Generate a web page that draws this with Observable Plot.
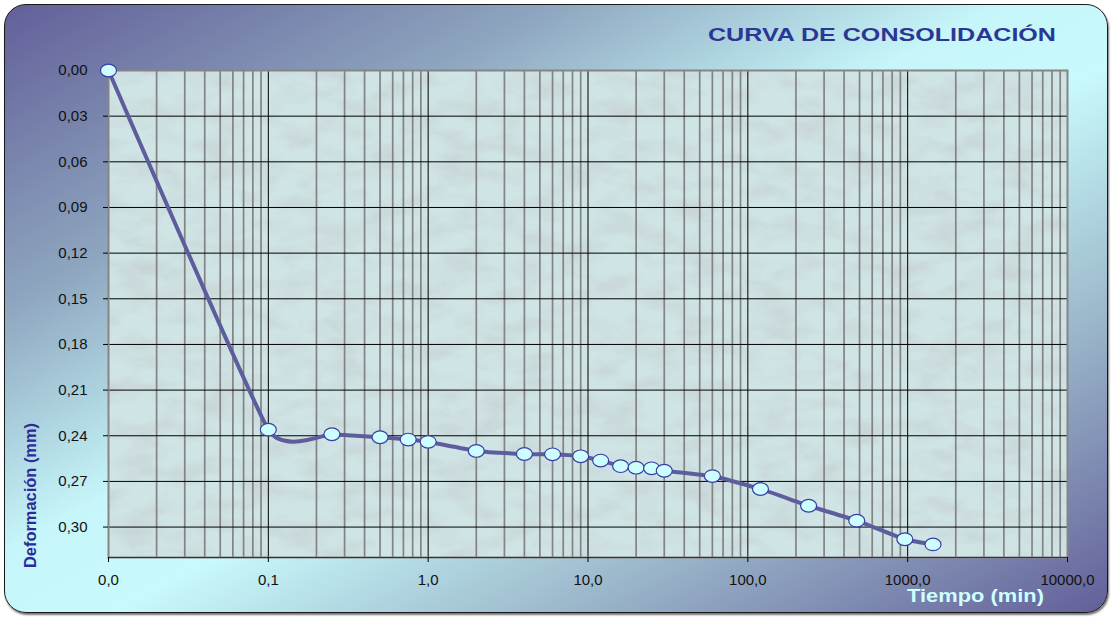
<!DOCTYPE html>
<html>
<head>
<meta charset="utf-8">
<script src="https://cdn.jsdelivr.net/npm/d3@7"></script>
<script src="https://cdn.jsdelivr.net/npm/@observablehq/plot@0.6"></script>
<style>
  body { margin: 0; background: #ffffff; }
  #wrap { position: relative; width: 1113px; height: 618px; overflow: hidden; font-family: "Liberation Sans", Arial, sans-serif; }
  #bg { position: absolute; left: 4px; top: 4px; width: 1102px; height: 607px; border: 1px solid #1a1a1a; border-radius: 22px;
        box-shadow: 1px 2px 2px rgba(0,0,0,0.55);
        background: linear-gradient(to bottom right, #625f99 0%, #8ea6bf 25%, #c6f6f9 45%, #c8f9fb 55%, #9cb8cb 75%, #625f99 100%); }
  #chart { position: absolute; left: 0; top: 0; }
</style>
</head>
<body>
<div id="wrap"><div id="bg"></div><div id="chart"></div></div>
<script>
// ---- data ----
const tiempo = [0.01, 0.1, 0.25, 0.5, 0.75, 1, 2, 4, 6, 9, 12, 16, 20, 25, 30, 60, 120, 240, 480, 960, 1440];
const deformacion = [0.000, 0.236, 0.239, 0.241, 0.2425, 0.244, 0.250, 0.252, 0.2522, 0.2535, 0.2563, 0.260, 0.261, 0.2614, 0.263, 0.2665, 0.275, 0.286, 0.2958, 0.308, 0.3114];
const xTicks = [0.01, 0.1, 1, 10, 100, 1000, 10000];
const xTickLabels = ["0,0", "0,1", "1,0", "10,0", "100,0", "1000,0", "10000,0"];
const yTicks = [0, 0.03, 0.06, 0.09, 0.12, 0.15, 0.18, 0.21, 0.24, 0.27, 0.30];
const yTickLabels = ["0,00", "0,03", "0,06", "0,09", "0,12", "0,15", "0,18", "0,21", "0,24", "0,27", "0,30"];
const minorMultipliers = [2, 3, 4, 5, 6, 7, 8, 9];
const title = "CURVA DE CONSOLIDACIÓN";
const xLabel = "Tiempo (min)";
const yLabel = "Deformación (mm)";

const data = tiempo.map((t, i) => ({t, d: deformacion[i]}));
const minor = [];
for (const dec of xTicks.slice(0, -1)) for (const m of minorMultipliers) minor.push(dec * m);

const ellipse = {
  draw(ctx) {
    const rx = 8, ry = 6.3, k = 0.5523;
    ctx.moveTo(rx, 0);
    ctx.bezierCurveTo(rx, ry * k, rx * k, ry, 0, ry);
    ctx.bezierCurveTo(-rx * k, ry, -rx, ry * k, -rx, 0);
    ctx.bezierCurveTo(-rx, -ry * k, -rx * k, -ry, 0, -ry);
    ctx.bezierCurveTo(rx * k, -ry, rx, -ry * k, rx, 0);
    ctx.closePath();
  }
};

const chart = Plot.plot({
  width: 1113, height: 618,
  marginLeft: 108, marginRight: 46, marginTop: 70, marginBottom: 61,
  style: {background: "transparent", fontFamily: "'Liberation Sans', Arial, sans-serif", fontSize: "15px", color: "#000", overflow: "visible"},
  x: {type: "log", domain: [0.01, 10000], axis: null},
  y: {domain: [0, 0.32], reverse: true, axis: null},
  marks: [
    Plot.frame({fill: "#cfe4e5", className: "plotbg"}),
    Plot.ruleX(minor, {stroke: "#838383", strokeWidth: 1.7}),
    Plot.ruleX(xTicks, {stroke: "#000", strokeWidth: 1}),
    Plot.ruleY(yTicks.slice(1), {stroke: "#000", strokeWidth: 1}),
    Plot.frame({stroke: "#858585", strokeWidth: 2}),
    Plot.ruleY([0.32], {stroke: "#333", strokeWidth: 1}),
    Plot.axisX({ticks: xTicks, tickFormat: d => xTickLabels[xTicks.indexOf(d)], tickSize: 5, tickPadding: 12, stroke: "#000", fill: "#111", fontSize: 15, letterSpacing: "2px", label: null}),
    Plot.axisY({ticks: yTicks, tickFormat: d => yTickLabels[yTicks.indexOf(d)], tickSize: 5, tickPadding: 16, stroke: "#000", fill: "#111", fontSize: 15, letterSpacing: "2px", label: null}),
    Plot.line(data, {x: "t", y: "d", stroke: "#5d5c9c", strokeWidth: 4, curve: d3.curveCardinal.tension(0.6)}),
    Plot.dot(data, {x: "t", y: "d", symbol: ellipse, fill: "#ccfeff", stroke: "#3c3ca2", strokeWidth: 1.2})
  ]
});
document.getElementById("chart").appendChild(chart);

const svg = d3.select(chart);
// subtle paper texture over the plot background
const defs = svg.insert("defs", ":first-child");
const f = defs.append("filter").attr("id", "tex").attr("x", 0).attr("y", 0).attr("width", 1).attr("height", 1);
f.append("feTurbulence").attr("type", "fractalNoise").attr("baseFrequency", "0.025 0.05").attr("numOctaves", 4).attr("seed", 7);
f.append("feColorMatrix").attr("type", "matrix")
  .attr("values", "0 0 0 0 0.55  0 0 0 0 0.60  0 0 0 0 0.62  1.3 0 0 0 -0.52");
const bgNode = chart.querySelector(".plotbg");
if (bgNode) {
  const r = bgNode.querySelector("rect") || bgNode;
  const tex = document.createElementNS("http://www.w3.org/2000/svg", "rect");
  ["x", "y", "width", "height"].forEach(a => tex.setAttribute(a, r.getAttribute(a)));
  tex.setAttribute("filter", "url(#tex)");
  tex.setAttribute("fill", "#000");
  bgNode.parentNode.insertBefore(tex, bgNode.nextSibling);
}

svg.append("text").attr("x", 708).attr("y", 41).attr("text-anchor", "start").attr("textLength", 348).attr("lengthAdjust", "spacingAndGlyphs")
  .attr("font-size", 18).attr("font-weight", "bold").attr("fill", "#2c3794").text(title);
svg.append("text").attr("x", 907).attr("y", 602).attr("text-anchor", "start").attr("textLength", 137).attr("lengthAdjust", "spacingAndGlyphs")
  .attr("font-size", 18).attr("font-weight", "bold").attr("fill", "#ccffff").text(xLabel);
svg.append("text").attr("transform", "translate(36,568) rotate(-90)").attr("text-anchor", "start").attr("textLength", 145).attr("lengthAdjust", "spacingAndGlyphs")
  .attr("font-size", 16).attr("font-weight", "bold").attr("fill", "#2b2b9a").text(yLabel);
</script>
</body>
</html>
